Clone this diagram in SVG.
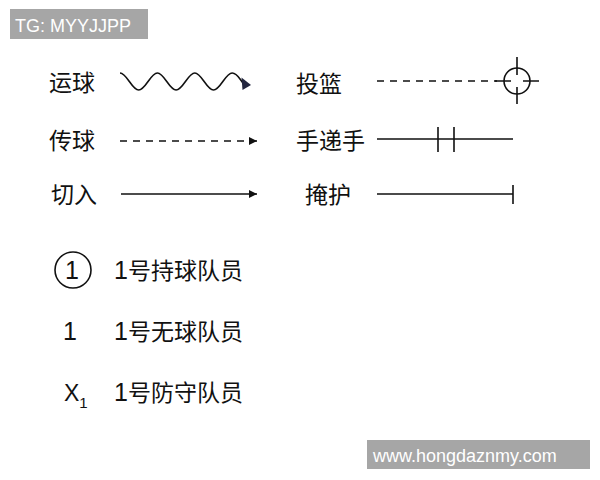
<svg xmlns="http://www.w3.org/2000/svg" width="600" height="480" viewBox="0 0 600 480">
<style>
.lbl{font-family:"Liberation Sans","Noto Sans CJK SC",sans-serif;font-size:23px;fill:#111}
.num{font-family:"Liberation Sans",Arial,sans-serif;font-size:25px;fill:#111}
.wm{font-family:"Liberation Sans",Arial,sans-serif;font-size:18px;fill:#fff}
.ln{stroke:#111;stroke-width:1.6;fill:none}
.dash{stroke-dasharray:7 6}
</style>
<defs>
<marker id="arr" markerUnits="userSpaceOnUse" markerWidth="10" markerHeight="10" refX="8" refY="4" orient="auto">
<path d="M0,0 L8,4 L0,8 Z" fill="#111"/>
</marker>
</defs>
<rect width="600" height="480" fill="#fff"/>
<g id="tag">
<rect x="10" y="9" width="138" height="30" fill="#a6a6a6"/>
<text class="wm" x="15" y="32">TG: MYYJJPP</text>
</g>
<g id="dribble">
<text class="lbl" x="49" y="91">运球</text>
<path class="ln" stroke-width="1.8" d="M120,73 C126.8,73 131.9,90 138.7,90 S150.6,73 157.4,73 S169.3,90 176.1,90 S188,73 194.8,73 S206.7,90 213.5,90 S225.4,73 232.2,73 C237,73 239,78 243,83"/>
<path d="M241.5,77.5 L251,85 L242.5,90 Z" fill="#23263f"/>
</g>
<g id="pass">
<text class="lbl" x="49" y="149">传球</text>
<line class="ln dash" x1="120" y1="141" x2="257" y2="141" marker-end="url(#arr)"/>
</g>
<g id="cut">
<text class="lbl" x="51" y="203">切入</text>
<line class="ln" x1="121" y1="194" x2="257" y2="194" marker-end="url(#arr)"/>
</g>
<g id="shoot">
<text class="lbl" x="296" y="92">投篮</text>
<line class="ln dash" x1="377" y1="81" x2="497" y2="81"/>
<circle class="ln" cx="517" cy="81" r="13"/>
<path class="ln" d="M517,57 V75 M517,87 V104 M495,81 H511 M523,81 H539"/>
</g>
<g id="handoff">
<text class="lbl" x="296" y="149">手递手</text>
<path class="ln" d="M377,139 H513 M438,127 V152 M454,127 V152"/>
</g>
<g id="screen">
<text class="lbl" x="305" y="203">掩护</text>
<path class="ln" d="M377,194 H513 M513,185 V204"/>
</g>
<g id="ball-handler">
<circle class="ln" cx="73" cy="270" r="18"/>
<text class="num" x="72" y="279" text-anchor="middle">1</text>
<text class="lbl" x="114" y="279"><tspan font-size="25">1</tspan>号持球队员</text>
</g>
<g id="off-ball">
<text class="num" x="70" y="340" text-anchor="middle">1</text>
<text class="lbl" x="114" y="340"><tspan font-size="25">1</tspan>号无球队员</text>
</g>
<g id="defender">
<text class="lbl" x="64" y="401">X<tspan font-size="15" dy="7">1</tspan></text>
<text class="lbl" x="114" y="401"><tspan font-size="25">1</tspan>号防守队员</text>
</g>
<g id="site">
<rect x="367" y="440" width="223" height="29" fill="#a6a6a6"/>
<text class="wm" x="373" y="462" font-size="18.5">www.hongdaznmy.com</text>
</g>
</svg>
